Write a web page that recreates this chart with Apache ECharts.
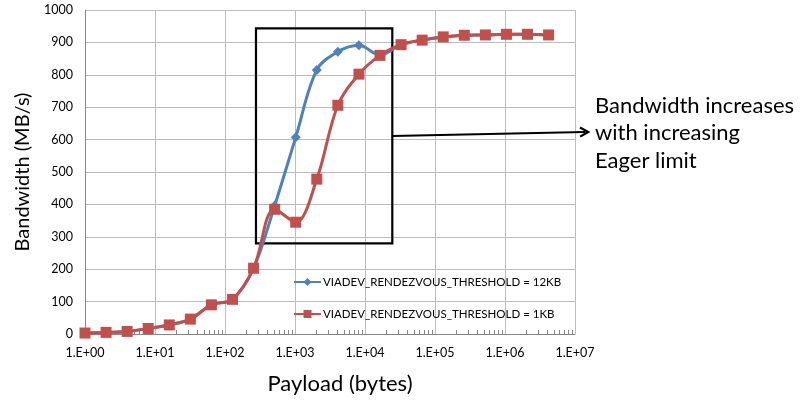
<!DOCTYPE html>
<html>
<head>
<meta charset="utf-8">
<script src="https://cdn.jsdelivr.net/npm/echarts@6/dist/echarts.min.js"></script>
<style>html,body{margin:0;padding:0;background:#fff;}#c{width:802px;height:402px;}</style>
</head>
<body>
<div id="c"></div>
<script>
const payloadBytes = [1, 2, 4, 8, 16, 32, 64, 128, 256, 512, 1024, 2048, 4096, 8192, 16384, 32768, 65536, 131072, 262144, 524288, 1048576, 2097152, 4194304];
const bw12KB = [3, 5, 8, 17, 28, 46, 90, 107, 203, 396, 607, 815, 871, 891, 861, 893, 907, 917, 922, 923, 925, 925, 923];
const bw1KB  = [3, 5, 8, 17, 28, 46, 90, 107, 203, 385, 345, 478, 706, 802, 860, 893, 907, 917, 922, 923, 925, 925, 923];
const xMajorTicks = [1, 10, 100, 1000, 10000, 100000, 1000000, 10000000];
const seriesNames = ['VIADEV_RENDEZVOUS_THRESHOLD = 12KB', 'VIADEV_RENDEZVOUS_THRESHOLD = 1KB'];
const boxCorners = [[277, 943], [24550, 280]];
const arrowStart = [24550, 611];
const noteLines = ['Bandwidth increases', 'with increasing', 'Eager limit'];

const minorTicks = [];
for (let d = 0; d < xMajorTicks.length - 1; d++) {
  for (let k = 2; k <= 9; k++) minorTicks.push(k * xMajorTicks[d]);
}
function fmt(v) {
  const e = Math.round(Math.log10(v));
  return '1.E+' + (e < 10 ? '0' + e : '' + e);
}
const FONT = 'Lato';
const chart = echarts.init(document.getElementById('c'), null, {renderer: 'canvas'});
chart.setOption({
  animation: false,
  backgroundColor: '#fff',
  textStyle: {fontFamily: FONT},
  grid: {left: 85, right: 227, top: 10, bottom: 68, containLabel: false},
  legend: {
    orient: 'vertical', left: 288, top: 271, itemWidth: 27, itemHeight: 10, itemGap: 20,
    textStyle: {fontFamily: FONT, fontSize: 11.5, color: '#000', padding: [0, 0, 0, -3]},
    data: seriesNames
  },
  xAxis: [{
    type: 'log', logBase: 10, min: 1, max: 10000000,
    axisLine: {show: true, lineStyle: {color: '#868686', width: 1}},
    axisTick: {show: false},
    axisLabel: {fontFamily: FONT, fontSize: 12.5, color: '#000', margin: 12, formatter: fmt, customValues: xMajorTicks},
    splitLine: {show: true, lineStyle: {color: '#bcbcbc', width: 1}},
    minorTick: {show: false}
  }, {
    type: 'log', logBase: 10, min: 1, max: 10000000, position: 'bottom',
    axisLine: {show: false},
    axisTick: {show: true, inside: true, length: 4, customValues: minorTicks, lineStyle: {color: '#868686'}},
    axisLabel: {show: false},
    splitLine: {show: false}
  }],
  yAxis: {
    type: 'value', min: 0, max: 1000, interval: 100,
    name: 'Bandwidth (MB/s)', nameLocation: 'middle', nameGap: 52,
    nameTextStyle: {fontFamily: FONT, fontSize: 20, color: '#000'},
    axisLine: {show: true, lineStyle: {color: '#868686'}},
    axisTick: {show: false},
    axisLabel: {fontFamily: FONT, fontSize: 12.5, color: '#000', margin: 12, formatter: function (v) { return String(v); }},
    splitLine: {show: true, lineStyle: {color: '#bcbcbc', width: 1}}
  },
  graphic: [{
    type: 'text', left: 595, top: 92,
    style: {text: noteLines.join('\n'), font: '22px ' + FONT, fill: '#000', lineHeight: 27.5}
  }, {
    type: 'text', x: 340, y: 384,
    style: {text: 'Payload (bytes)', font: '22px ' + FONT, fill: '#000', align: 'center', verticalAlign: 'middle'}
  }],
  series: [{
    name: seriesNames[0], type: 'line', smooth: 0.35,
    data: payloadBytes.map((x, i) => [x, bw12KB[i]]),
    symbol: 'diamond', symbolSize: 10, clip: false,
    lineStyle: {color: '#4f81bd', width: 3}, itemStyle: {color: '#4f81bd'}
  }, {
    name: seriesNames[1], type: 'line', smooth: 0.35,
    data: payloadBytes.map((x, i) => [x, bw1KB[i]]),
    symbol: 'rect', symbolSize: 11, clip: false,
    lineStyle: {color: '#c0504d', width: 3}, itemStyle: {color: '#c0504d'},
    markArea: {
      silent: true,
      itemStyle: {color: 'rgba(0,0,0,0)', borderColor: '#000', borderWidth: 2.2},
      data: [[{coord: boxCorners[0]}, {coord: boxCorners[1]}]]
    },
    markLine: {
      silent: true,
      symbol: ['none', 'path://M5,0 L10,9 L8.2,10 L5,4.2 L1.8,10 L0,9 Z'],
      symbolSize: [11, 11], symbolOffset: [0, 0], label: {show: false},
      lineStyle: {color: '#000', width: 2, type: 'solid'},
      data: [[{coord: arrowStart}, {x: 585, y: 132}]]
    }
  }]
});
</script>
</body>
</html>
